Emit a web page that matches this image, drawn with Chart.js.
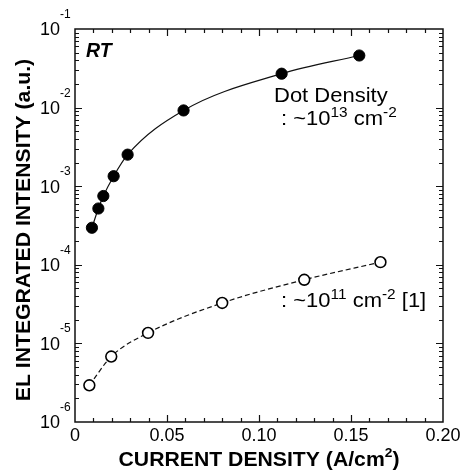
<!DOCTYPE html>
<html>
<head>
<meta charset="utf-8">
<script src="https://cdn.jsdelivr.net/npm/chart.js@4.4.1/dist/chart.umd.min.js"></script>
<style>
html,body{margin:0;padding:0;background:#fff;}
#wrap{width:462px;height:470px;}
</style>
</head>
<body>
<div id="wrap"><canvas id="c" width="462" height="470"></canvas></div>
<script>
// ---- data ----
const highDensityX = [0.0092, 0.0127, 0.0154, 0.0210, 0.0286, 0.0590, 0.1123, 0.1545];
const highDensityY = [2.96e-4, 5.2e-4, 7.5e-4, 1.34e-3, 2.52e-3, 9.2e-3, 2.7e-2, 4.6e-2];
const lowDensityX  = [0.0078, 0.0197, 0.0397, 0.0800, 0.1246, 0.1660];
const lowDensityY  = [2.93e-6, 6.8e-6, 1.36e-5, 3.27e-5, 6.45e-5, 1.08e-4];

const xTickValues = [0, 0.05, 0.10, 0.15, 0.20];
const xTickLabels = ['0', '0.05', '0.10', '0.15', '0.20'];
const yTickExponents = [-6, -5, -4, -3, -2, -1];
const yTickBase = '10';

const xTitle = [['CURRENT DENSITY (A/cm', false], ['2', true], [')', false]];
const yTitle = 'EL INTEGRATED INTENSITY (a.u.)';
const annoRT = 'RT';
const annoDot1 = 'Dot Density';
const annoDot2 = [[': ~10', false], ['13', true], [' cm', false], ['-2', true]];
const annoDot3 = [[': ~10', false], ['11', true], [' cm', false], ['-2', true], [' [1]', false]];

const FONT = '"Liberation Sans", Arial, sans-serif';

function toPts(xs, ys) { return xs.map((x, i) => ({x: x, y: ys[i]})); }

// draw text made of normal/superscript parts
function rich(ctx, parts, x, y, o) {
  const w = o.weight || 'normal', st = o.style || 'normal';
  const mf = `${st} ${w} ${o.size}px ${FONT}`;
  const sf = `${st} ${w} ${o.supSize}px ${FONT}`;
  let total = 0;
  const widths = parts.map(p => { ctx.font = p[1] ? sf : mf; const m = ctx.measureText(p[0]).width; total += m; return m; });
  const sx = o.sx || 1;
  ctx.save();
  ctx.translate(x, y);
  if (o.rot) ctx.rotate(o.rot);
  ctx.scale(sx, 1);
  let cx = o.align === 'center' ? -total / 2 : (o.align === 'right' ? -total : 0);
  ctx.textAlign = 'left';
  ctx.textBaseline = 'alphabetic';
  ctx.fillStyle = '#000';
  parts.forEach((p, i) => {
    ctx.font = p[1] ? sf : mf;
    ctx.fillText(p[0], cx, p[1] ? -o.rise : 0);
    cx += widths[i];
  });
  ctx.restore();
}

const decor = {
  id: 'decor',
  afterDatasetsDraw(chart) {
    const ctx = chart.ctx, a = chart.chartArea;
    const xs = chart.scales.x, ys = chart.scales.y;
    ctx.save();
    ctx.strokeStyle = '#111';
    ctx.lineWidth = 1.5;
    ctx.strokeRect(a.left, a.top, a.right - a.left, a.bottom - a.top);
    ctx.lineWidth = 1.2;
    ctx.beginPath();
    // x ticks (inward, bottom and top)
    for (let k = 1; k < 20; k++) {
      const v = k / 100;
      const px = Math.round(xs.getPixelForValue(v)) + 0.5;
      const len = (k % 5 === 0) ? 7 : 4;
      ctx.moveTo(px, a.bottom); ctx.lineTo(px, a.bottom - len);
      ctx.moveTo(px, a.top); ctx.lineTo(px, a.top + len);
    }
    // y ticks (log, inward, left and right)
    for (let e = -6; e <= -1; e++) {
      for (let m = 1; m <= 9; m++) {
        const v = m * Math.pow(10, e);
        if (v > 0.1 + 1e-12 || (e === -1 && m > 1)) continue;
        const py = Math.round(ys.getPixelForValue(v)) + 0.5;
        const len = m === 1 ? 7 : 4;
        if (m === 1 && (e === -6 || e === -1)) continue;
        ctx.moveTo(a.left, py); ctx.lineTo(a.left + len, py);
        ctx.moveTo(a.right, py); ctx.lineTo(a.right - len, py);
      }
    }
    ctx.stroke();
    ctx.restore();

    // x tick labels
    ctx.save();
    ctx.fillStyle = '#000';
    ctx.font = `18px ${FONT}`;
    ctx.textAlign = 'center';
    ctx.textBaseline = 'alphabetic';
    xTickValues.forEach((v, i) => ctx.fillText(xTickLabels[i], xs.getPixelForValue(v), a.bottom + 19));
    ctx.restore();

    // y tick labels 10^n
    yTickExponents.forEach(e => {
      const py = ys.getPixelForValue(Math.pow(10, e));
      ctx.save();
      ctx.fillStyle = '#000';
      ctx.font = `18px ${FONT}`;
      ctx.textAlign = 'right';
      ctx.textBaseline = 'alphabetic';
      ctx.fillText(yTickBase, 60, py + 6.4);
      ctx.font = `12px ${FONT}`;
      ctx.textAlign = 'left';
      ctx.fillText(String(e), 60, py - 11);
      ctx.restore();
    });

    // axis titles
    rich(ctx, xTitle, (a.left + a.right) / 2, 466, {size: 20, supSize: 13, rise: 9, weight: 'bold', align: 'center', sx: 1.06});
    rich(ctx, [[yTitle, false]], 30, 230, {size: 20, supSize: 13, rise: 9, weight: 'bold', align: 'center', sx: 1.06, rot: -Math.PI / 2});

    // annotations
    rich(ctx, [[annoRT, false]], 86, 57, {size: 19.5, supSize: 12, rise: 8, weight: 'bold', style: 'italic', align: 'left'});
    rich(ctx, [[annoDot1, false]], 274, 101.5, {size: 20, supSize: 14, rise: 8.5, align: 'left', sx: 1.1});
    rich(ctx, annoDot2, 281, 125, {size: 20, supSize: 14, rise: 8.5, align: 'left', sx: 1.1});
    rich(ctx, annoDot3, 281, 307, {size: 20, supSize: 14, rise: 8.5, align: 'left', sx: 1.1});
  }
};

new Chart(document.getElementById('c'), {
  type: 'scatter',
  data: {
    datasets: [
      {
        label: 'Dot density ~1e13',
        data: toPts(highDensityX, highDensityY),
        showLine: true,
        cubicInterpolationMode: 'monotone',
        borderColor: '#111',
        borderWidth: 1.2,
        backgroundColor: '#000',
        pointBackgroundColor: '#000',
        pointBorderColor: '#000',
        pointBorderWidth: 1,
        pointRadius: 5.6,
        clip: false
      },
      {
        label: 'Dot density ~1e11',
        data: toPts(lowDensityX, lowDensityY),
        showLine: true,
        cubicInterpolationMode: 'monotone',
        borderColor: '#111',
        borderWidth: 1.2,
        borderDash: [5, 3],
        pointBackgroundColor: '#fff',
        pointBorderColor: '#000',
        pointBorderWidth: 1.6,
        pointRadius: 5.4,
        clip: false
      }
    ]
  },
  options: {
    responsive: false,
    animation: false,
    devicePixelRatio: 1,
    layout: {padding: {left: 75, top: 29, right: 19, bottom: 48}},
    plugins: {legend: {display: false}, tooltip: {enabled: false}},
    scales: {
      x: {type: 'linear', min: 0, max: 0.2, display: false},
      y: {type: 'logarithmic', min: 1e-6, max: 1e-1, display: false}
    }
  },
  plugins: [decor]
});
</script>
</body>
</html>
